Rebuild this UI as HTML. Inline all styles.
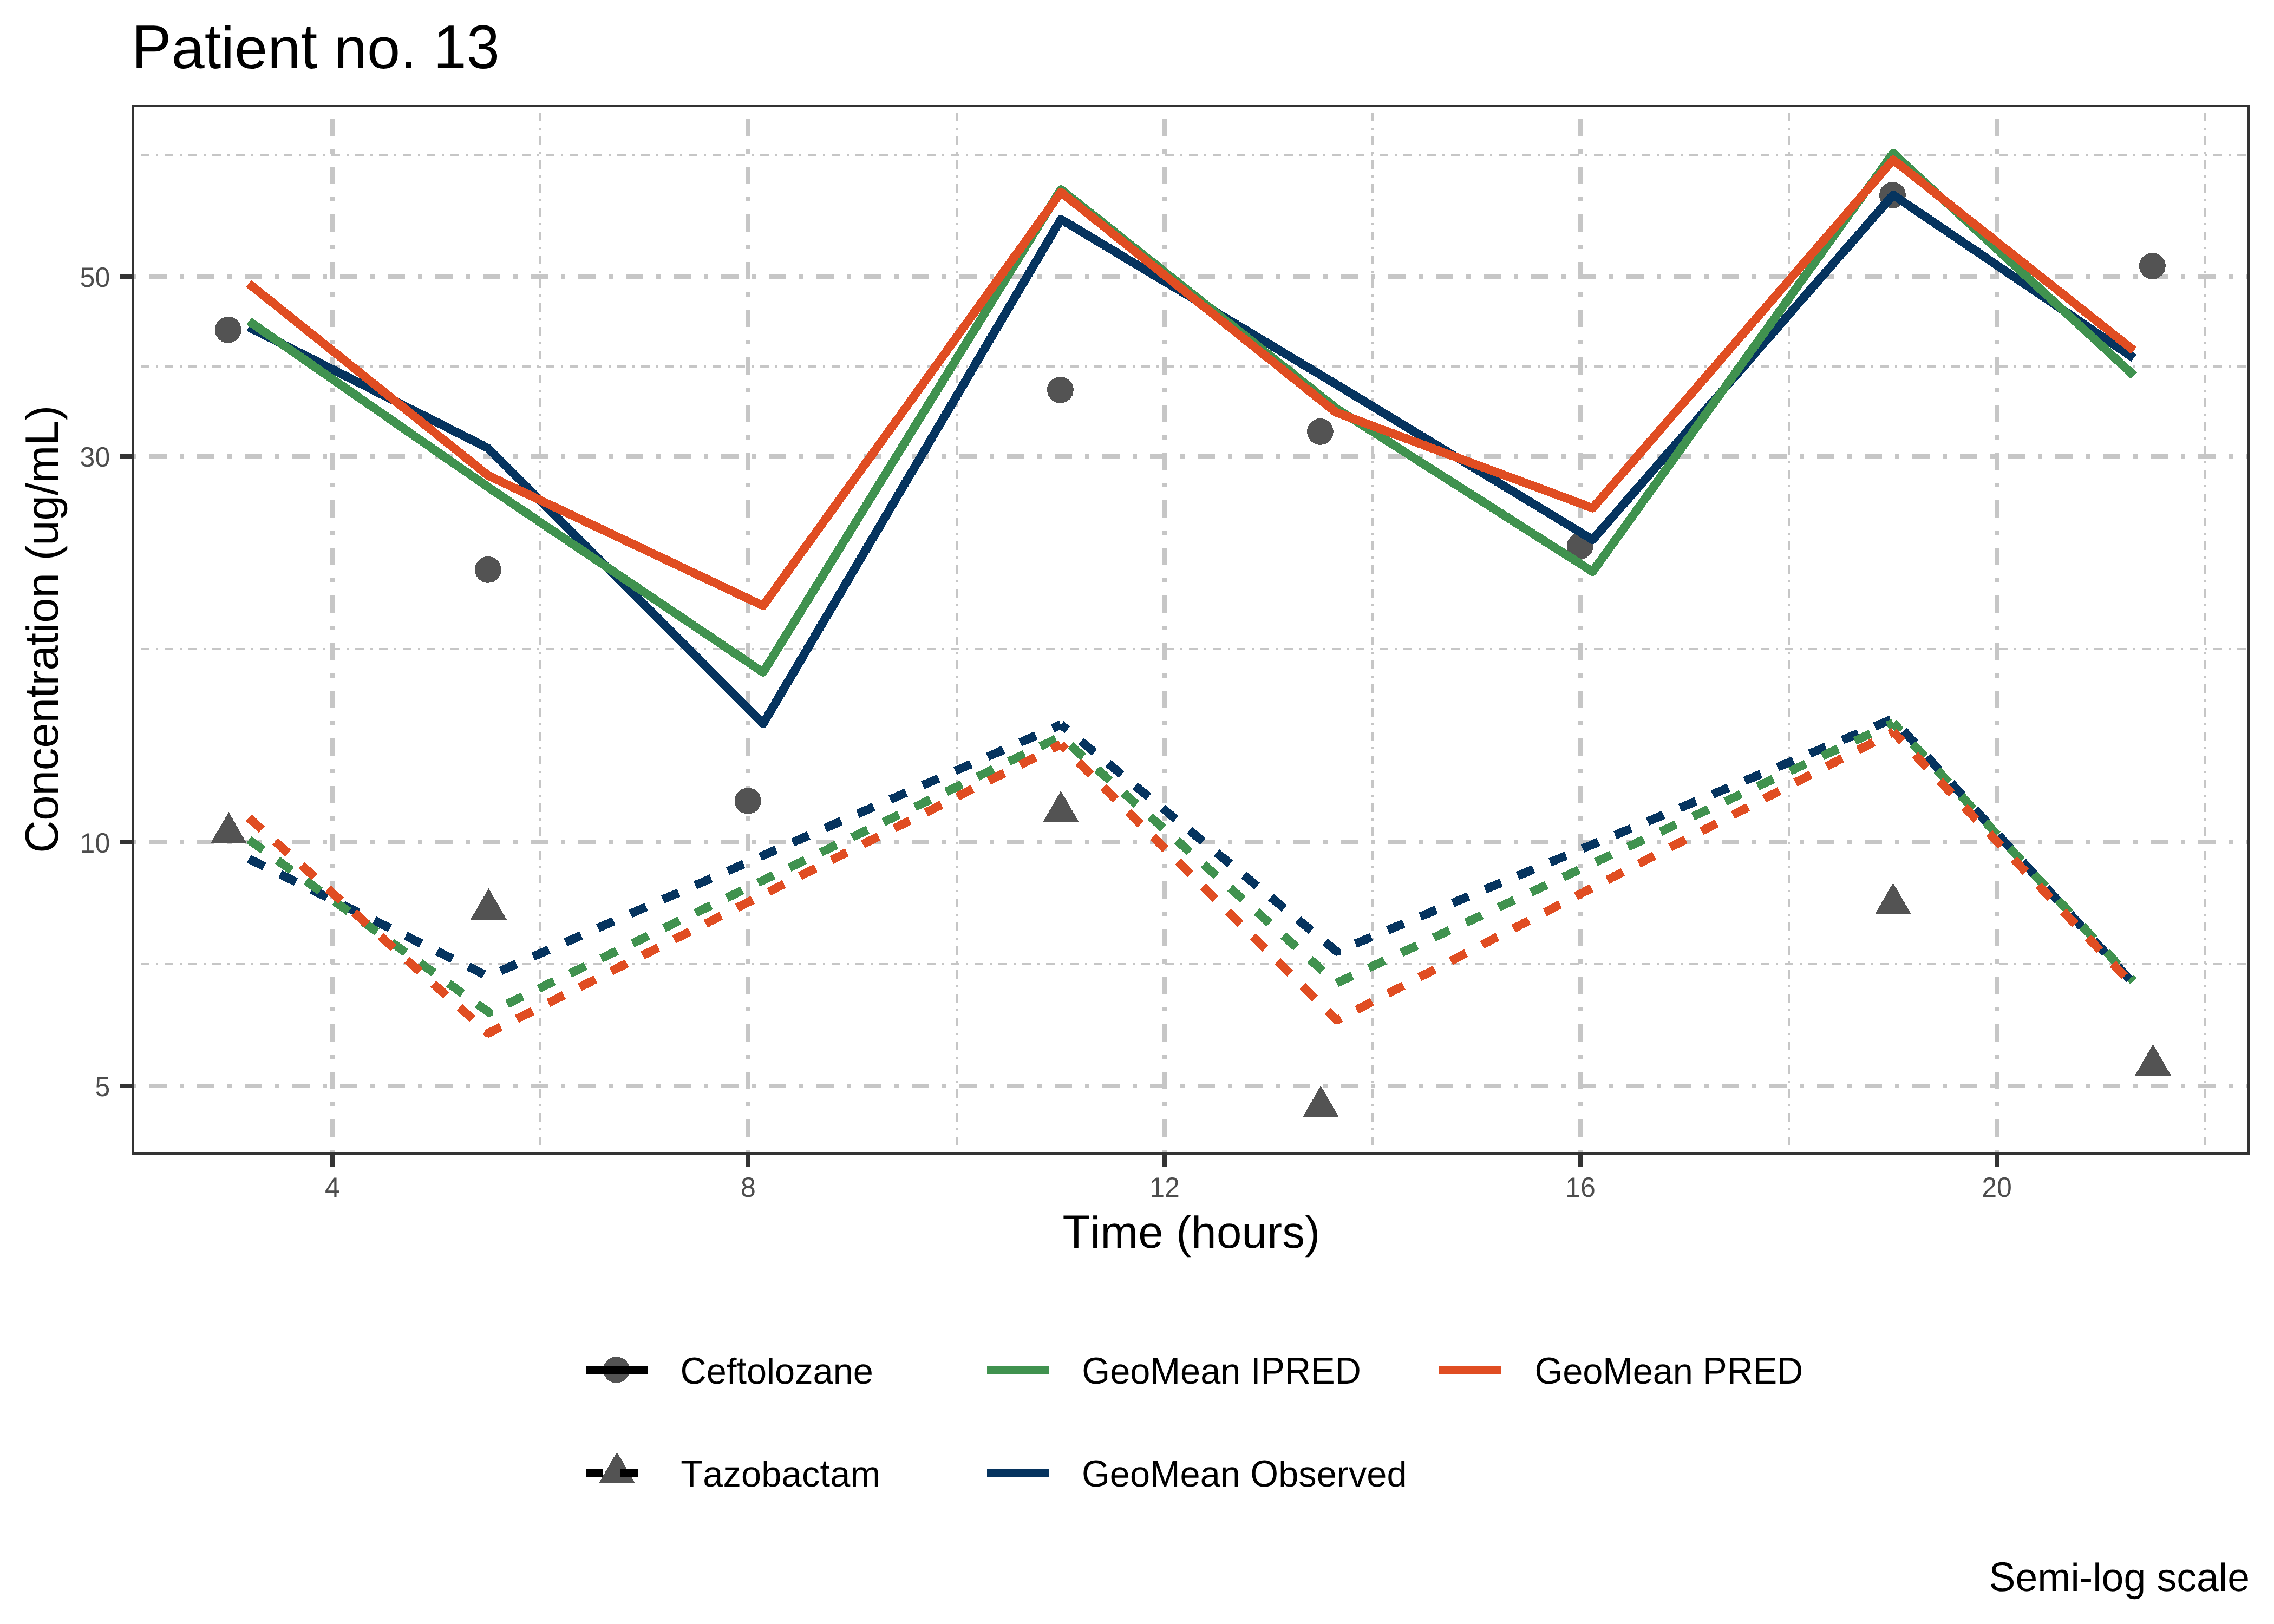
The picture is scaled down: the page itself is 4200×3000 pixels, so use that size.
<!DOCTYPE html>
<html><head><meta charset="utf-8"><title>Patient no. 13</title>
<style>
html,body{margin:0;padding:0;background:#ffffff;}
svg{display:block;}
text{font-family:"Liberation Sans",sans-serif;font-kerning:none;font-variant-ligatures:none;text-rendering:geometricPrecision;white-space:pre;}
</style></head><body>
<svg width="4200" height="3000" viewBox="0 0 4200 3000">
<rect width="4200" height="3000" fill="#ffffff"/>
<g fill="none" stroke="#c6c6c6" stroke-linecap="butt">
<path d="M244 286 H4155" stroke-width="4" stroke-dasharray="4 12 16 12"/>
<path d="M244 677 H4155" stroke-width="4" stroke-dasharray="4 12 16 12"/>
<path d="M244 1199 H4155" stroke-width="4" stroke-dasharray="4 12 16 12"/>
<path d="M244 1781 H4155" stroke-width="4" stroke-dasharray="4 12 16 12"/>
<path d="M998 2132 V194" stroke-width="4" stroke-dasharray="4 12 16 12"/>
<path d="M1767 2132 V194" stroke-width="4" stroke-dasharray="4 12 16 12"/>
<path d="M2535 2132 V194" stroke-width="4" stroke-dasharray="4 12 16 12"/>
<path d="M3304 2132 V194" stroke-width="4" stroke-dasharray="4 12 16 12"/>
<path d="M4072 2132 V194" stroke-width="4" stroke-dasharray="4 12 16 12"/>
<path d="M244 511 H4155" stroke-width="8" stroke-dasharray="8 24 32 24"/>
<path d="M244 843 H4155" stroke-width="8" stroke-dasharray="8 24 32 24"/>
<path d="M244 1556 H4155" stroke-width="8" stroke-dasharray="8 24 32 24"/>
<path d="M244 2006 H4155" stroke-width="8" stroke-dasharray="8 24 32 24"/>
<path d="M614 2132 V194" stroke-width="8" stroke-dasharray="8 24 32 24"/>
<path d="M1382 2132 V194" stroke-width="8" stroke-dasharray="8 24 32 24"/>
<path d="M2151 2132 V194" stroke-width="8" stroke-dasharray="8 24 32 24"/>
<path d="M2919 2132 V194" stroke-width="8" stroke-dasharray="8 24 32 24"/>
<path d="M3688 2132 V194" stroke-width="8" stroke-dasharray="8 24 32 24"/>
</g>
<g fill="#535353" shape-rendering="crispEdges">
<circle cx="421.4" cy="609.4" r="24.4"/>
<circle cx="901.4" cy="1052.4" r="24.4"/>
<circle cx="1381.4" cy="1479.5" r="24.4"/>
<circle cx="1958.4" cy="720.4" r="24.4"/>
<circle cx="2438.4" cy="797.4" r="24.4"/>
<circle cx="2918.4" cy="1008.6" r="24.4"/>
<circle cx="3495.5" cy="360.3" r="24.4"/>
<circle cx="3975.4" cy="491.4" r="24.4"/>
<path d="M422.3 1500.0 L455.7 1557.9 L388.9 1557.9Z"/>
<path d="M902.5 1640.9 L935.9 1698.8 L869.1 1698.8Z"/>
<path d="M1959.4 1460.9 L1992.8 1518.8 L1926.0 1518.8Z"/>
<path d="M2439.4 2005.6 L2472.8 2063.5 L2406.0 2063.5Z"/>
<path d="M3496.5 1630.8 L3529.9 1688.7 L3463.1 1688.7Z"/>
<path d="M3976.5 1929.0 L4009.9 1986.9 L3943.1 1986.9Z"/>
</g>
<g fill="none" stroke-width="16" stroke-linecap="butt" shape-rendering="crispEdges">
<path d="M459.70 1586.50 L901.60 1803.60" stroke="#06345f" stroke-dasharray="32.00 32.54" stroke-dashoffset="0.00"/>
<path d="M901.60 1803.60 L1959.30 1338.50" stroke="#06345f" stroke-dasharray="32.00 33.52" stroke-dashoffset="40.60"/>
<path d="M1959.30 1338.50 L2469.00 1757.70" stroke="#06345f" stroke-dasharray="32.00 32.86" stroke-dashoffset="16.60"/>
<path d="M2469.00 1757.70 L3496.00 1328.00" stroke="#06345f" stroke-dasharray="32.00 33.00" stroke-dashoffset="27.90"/>
<path d="M3496.00 1328.00 L3941.00 1817.80" stroke="#06345f" stroke-dasharray="32.00 33.37" stroke-dashoffset="36.10"/>
<circle cx="2469.00" cy="1757.70" r="8" fill="#06345f" stroke="none"/>
<path d="M459.80 1551.30 L903.50 1870.50" stroke="#40924f" stroke-dasharray="32.00 32.90" stroke-dashoffset="0.00"/>
<path d="M903.50 1870.50 L1959.00 1360.70" stroke="#40924f" stroke-dasharray="32.00 32.32" stroke-dashoffset="27.40"/>
<path d="M1959.00 1360.70 L2468.50 1816.00" stroke="#40924f" stroke-dasharray="32.00 33.92" stroke-dashoffset="41.80"/>
<path d="M2468.50 1816.00 L3496.90 1335.50" stroke="#40924f" stroke-dasharray="32.00 34.04" stroke-dashoffset="0.00"/>
<path d="M3496.90 1335.50 L3940.60 1812.50" stroke="#40924f" stroke-dasharray="32.00 33.59" stroke-dashoffset="12.40"/>
<circle cx="903.50" cy="1870.50" r="8" fill="#40924f" stroke="none"/>
<path d="M459.70 1510.80 L902.00 1908.70" stroke="#e04d22" stroke-dasharray="32.00 33.44" stroke-dashoffset="0.00"/>
<path d="M902.00 1908.70 L1959.30 1375.20" stroke="#e04d22" stroke-dasharray="32.00 33.08" stroke-dashoffset="6.00"/>
<path d="M1959.30 1375.20 L2469.00 1884.40" stroke="#e04d22" stroke-dasharray="32.00 33.06" stroke-dashoffset="18.90"/>
<path d="M2469.00 1884.40 L3496.90 1352.00" stroke="#e04d22" stroke-dasharray="32.00 33.18" stroke-dashoffset="23.70"/>
<path d="M3496.90 1352.00 L3941.00 1821.30" stroke="#e04d22" stroke-dasharray="32.00 34.41" stroke-dashoffset="8.00"/>
<circle cx="902.00" cy="1908.70" r="8" fill="#e04d22" stroke="none"/>
<circle cx="2469.00" cy="1884.40" r="8" fill="#e04d22" stroke="none"/>
</g>
<g fill="none" stroke-width="16" stroke-linejoin="round" stroke-linecap="butt" shape-rendering="crispEdges">
<path d="M459.6 604.1 L901.5 828.0 L1409.5 1337.0 L1959.5 405.0 L2468.0 710.0 L2941.5 997.0 L3496.5 360.0 L3941.2 661.5" stroke="#06345f"/>
<path d="M459.9 593.4 L901.7 900.0 L1409.5 1242.0 L1959.5 350.0 L2469.5 755.5 L2941.5 1056.0 L3496.5 283.0 L3941.5 694.0" stroke="#40924f"/>
<path d="M459.5 523.9 L901.7 878.5 L1409.5 1119.0 L1959.5 355.0 L2467.5 761.7 L2941.5 938.6 L3496.5 295.0 L3941.2 647.5" stroke="#e04d22"/>
</g>
<g fill="#333333">
<rect x="244" y="194" width="3911" height="4"/>
<rect x="244" y="2128" width="3911" height="5"/>
<rect x="244" y="194" width="4" height="1939"/>
<rect x="4150" y="194" width="5" height="1939"/>
<rect x="222" y="507" width="22" height="8"/>
<rect x="222" y="839" width="22" height="8"/>
<rect x="222" y="1552" width="22" height="8"/>
<rect x="222" y="2002" width="22" height="8"/>
<rect x="610" y="2133" width="8" height="22"/>
<rect x="1378" y="2133" width="8" height="22"/>
<rect x="2147" y="2133" width="8" height="22"/>
<rect x="2915" y="2133" width="8" height="22"/>
<rect x="3684" y="2133" width="8" height="22"/>
</g>
<g font-family='"Liberation Sans", sans-serif' font-size="50" fill="#4d4d4d">
<text transform="translate(203.2 530.3) scale(1 1.035)" text-anchor="end">50</text>
<text transform="translate(203.2 862.3) scale(1 1.035)" text-anchor="end">30</text>
<text transform="translate(203.2 1575.3) scale(1 1.035)" text-anchor="end">10</text>
<text transform="translate(203.2 2025.3) scale(1 1.035)" text-anchor="end">5</text>
<text transform="translate(614.0 2210.5) scale(1 1.035)" text-anchor="middle">4</text>
<text transform="translate(1382.0 2210.5) scale(1 1.035)" text-anchor="middle">8</text>
<text transform="translate(2151.0 2210.5) scale(1 1.035)" text-anchor="middle">12</text>
<text transform="translate(2919.0 2210.5) scale(1 1.035)" text-anchor="middle">16</text>
<text transform="translate(3688.0 2210.5) scale(1 1.035)" text-anchor="middle">20</text>
</g>
<g transform="translate(243.18 126.00)"><text x="0.00" y="0" font-size="110.00" letter-spacing="0.070" fill="#000" transform="scale(1 1.040)">P</text><text x="73.44" y="0" font-size="110.00" letter-spacing="0.070" fill="#000" transform="scale(1 0.972)">a</text><text x="134.69" y="0" font-size="110.00" letter-spacing="0.070" fill="#000" transform="scale(1 1.075)">t</text><text x="165.32" y="0" font-size="110.00" letter-spacing="0.070" fill="#000" transform="scale(1 0.990)">i</text><text x="189.82" y="0" font-size="110.00" letter-spacing="0.070" fill="#000" transform="scale(1 0.972)">en</text><text x="312.32" y="0" font-size="110.00" letter-spacing="0.070" fill="#000" transform="scale(1 1.075)">t</text><text x="342.95" y="0" font-size="110.00" letter-spacing="0.070" fill="#000"> </text><text x="373.58" y="0" font-size="110.00" letter-spacing="0.070" fill="#000" transform="scale(1 0.972)">no</text><text x="496.07" y="0" font-size="110.00" letter-spacing="0.070" fill="#000">. </text><text x="557.33" y="0" font-size="110.00" letter-spacing="0.070" fill="#000" transform="scale(1 1.040)">13</text></g>
<g transform="translate(1962.43 2304.80)"><text x="0.00" y="0" font-size="83.33" letter-spacing="0.297" fill="#000" transform="scale(1 1.040)">T</text><text x="51.20" y="0" font-size="83.33" letter-spacing="0.297" fill="#000" transform="scale(1 0.990)">i</text><text x="70.01" y="0" font-size="83.33" letter-spacing="0.297" fill="#000">me (</text><text x="237.86" y="0" font-size="83.33" letter-spacing="0.297" fill="#000" transform="scale(1 0.990)">h</text><text x="284.50" y="0" font-size="83.33" letter-spacing="0.297" fill="#000">ours)</text></g>
<g transform="translate(107.00 1575.83) rotate(-90)"><text x="0.00" y="0" font-size="83.33" letter-spacing="-0.103" fill="#000" transform="scale(1 1.040)">C</text><text x="60.07" y="0" font-size="83.33" letter-spacing="-0.103" fill="#000">oncen</text><text x="286.60" y="0" font-size="83.33" letter-spacing="-0.103" fill="#000" transform="scale(1 1.075)">t</text><text x="309.65" y="0" font-size="83.33" letter-spacing="-0.103" fill="#000">ra</text><text x="383.53" y="0" font-size="83.33" letter-spacing="-0.103" fill="#000" transform="scale(1 1.075)">t</text><text x="406.58" y="0" font-size="83.33" letter-spacing="-0.103" fill="#000" transform="scale(1 0.990)">i</text><text x="424.99" y="0" font-size="83.33" letter-spacing="-0.103" fill="#000">on (ug/m</text><text x="753.01" y="0" font-size="83.33" letter-spacing="-0.103" fill="#000" transform="scale(1 1.040)">L</text><text x="799.25" y="0" font-size="83.33" letter-spacing="-0.103" fill="#000">)</text></g>
<g transform="translate(3673.57 2938.80)"><text x="0.00" y="0" font-size="73.33" letter-spacing="0.037" fill="#000" transform="scale(1 1.040)">S</text><text x="48.95" y="0" font-size="73.33" letter-spacing="0.037" fill="#000">em</text><text x="150.89" y="0" font-size="73.33" letter-spacing="0.037" fill="#000" transform="scale(1 0.990)">i</text><text x="167.22" y="0" font-size="73.33" letter-spacing="0.037" fill="#000">-</text><text x="191.67" y="0" font-size="73.33" letter-spacing="0.037" fill="#000" transform="scale(1 0.990)">l</text><text x="208.00" y="0" font-size="73.33" letter-spacing="0.037" fill="#000">og sca</text><text x="424.28" y="0" font-size="73.33" letter-spacing="0.037" fill="#000" transform="scale(1 0.990)">l</text><text x="440.61" y="0" font-size="73.33" letter-spacing="0.037" fill="#000">e</text></g>
<circle cx="1138.5" cy="2530.5" r="24.4" fill="#535353" shape-rendering="crispEdges"/>
<rect x="1082" y="2523" width="115" height="16" fill="#000"/>
<path d="M1139.5 2682.1 L1172.9 2740.0 L1106.1 2740.0Z" fill="#535353" shape-rendering="crispEdges"/>
<rect x="1082" y="2713" width="32" height="16" fill="#000"/>
<rect x="1146" y="2713" width="32" height="16" fill="#000"/>
<rect x="1823" y="2523" width="115" height="16" fill="#40924f"/>
<rect x="2658" y="2523" width="115" height="16" fill="#e04d22"/>
<rect x="1823" y="2713" width="115" height="16" fill="#06345f"/>
<g transform="translate(1256.61 2556.20)"><text x="0.00" y="0" font-size="66.67" letter-spacing="0.054" fill="#000" transform="scale(1 1.040)">C</text><text x="48.20" y="0" font-size="66.67" letter-spacing="0.054" fill="#000">ef</text><text x="103.91" y="0" font-size="66.67" letter-spacing="0.054" fill="#000" transform="scale(1 1.075)">t</text><text x="122.49" y="0" font-size="66.67" letter-spacing="0.054" fill="#000">o</text><text x="159.62" y="0" font-size="66.67" letter-spacing="0.054" fill="#000" transform="scale(1 0.990)">l</text><text x="174.48" y="0" font-size="66.67" letter-spacing="0.054" fill="#000">ozane</text></g>
<g transform="translate(1257.20 2746.00)"><text x="0.00" y="0" font-size="66.67" letter-spacing="0.227" fill="#000" transform="scale(1 1.040)">T</text><text x="40.95" y="0" font-size="66.67" letter-spacing="0.227" fill="#000">azo</text><text x="149.13" y="0" font-size="66.67" letter-spacing="0.227" fill="#000" transform="scale(1 0.990)">b</text><text x="186.43" y="0" font-size="66.67" letter-spacing="0.227" fill="#000">ac</text><text x="257.30" y="0" font-size="66.67" letter-spacing="0.227" fill="#000" transform="scale(1 1.075)">t</text><text x="276.05" y="0" font-size="66.67" letter-spacing="0.227" fill="#000">am</text></g>
<g transform="translate(1998.35 2556.00)"><text x="0.00" y="0" font-size="66.67" letter-spacing="0.040" fill="#000" transform="scale(1 1.040)">G</text><text x="51.90" y="0" font-size="66.67" letter-spacing="0.040" fill="#000">eo</text><text x="126.14" y="0" font-size="66.67" letter-spacing="0.040" fill="#000" transform="scale(1 1.040)">M</text><text x="181.71" y="0" font-size="66.67" letter-spacing="0.040" fill="#000">ean </text><text x="311.63" y="0" font-size="66.67" letter-spacing="0.040" fill="#000" transform="scale(1 1.040)">IPRED</text></g>
<g transform="translate(2834.55 2556.00)"><text x="0.00" y="0" font-size="66.67" letter-spacing="-0.073" fill="#000" transform="scale(1 1.040)">G</text><text x="51.79" y="0" font-size="66.67" letter-spacing="-0.073" fill="#000">eo</text><text x="125.80" y="0" font-size="66.67" letter-spacing="-0.073" fill="#000" transform="scale(1 1.040)">M</text><text x="181.26" y="0" font-size="66.67" letter-spacing="-0.073" fill="#000">ean </text><text x="310.73" y="0" font-size="66.67" letter-spacing="-0.073" fill="#000" transform="scale(1 1.040)">PRED</text></g>
<g transform="translate(1997.95 2746.30)"><text x="0.00" y="0" font-size="66.67" letter-spacing="0.013" fill="#000" transform="scale(1 1.040)">G</text><text x="51.87" y="0" font-size="66.67" letter-spacing="0.013" fill="#000">eo</text><text x="126.05" y="0" font-size="66.67" letter-spacing="0.013" fill="#000" transform="scale(1 1.040)">M</text><text x="181.60" y="0" font-size="66.67" letter-spacing="0.013" fill="#000">ean </text><text x="311.41" y="0" font-size="66.67" letter-spacing="0.013" fill="#000" transform="scale(1 1.040)">O</text><text x="363.29" y="0" font-size="66.67" letter-spacing="0.013" fill="#000" transform="scale(1 0.990)">b</text><text x="400.38" y="0" font-size="66.67" letter-spacing="0.013" fill="#000">serve</text><text x="563.47" y="0" font-size="66.67" letter-spacing="0.013" fill="#000" transform="scale(1 0.990)">d</text></g>
</svg>
</body></html>
